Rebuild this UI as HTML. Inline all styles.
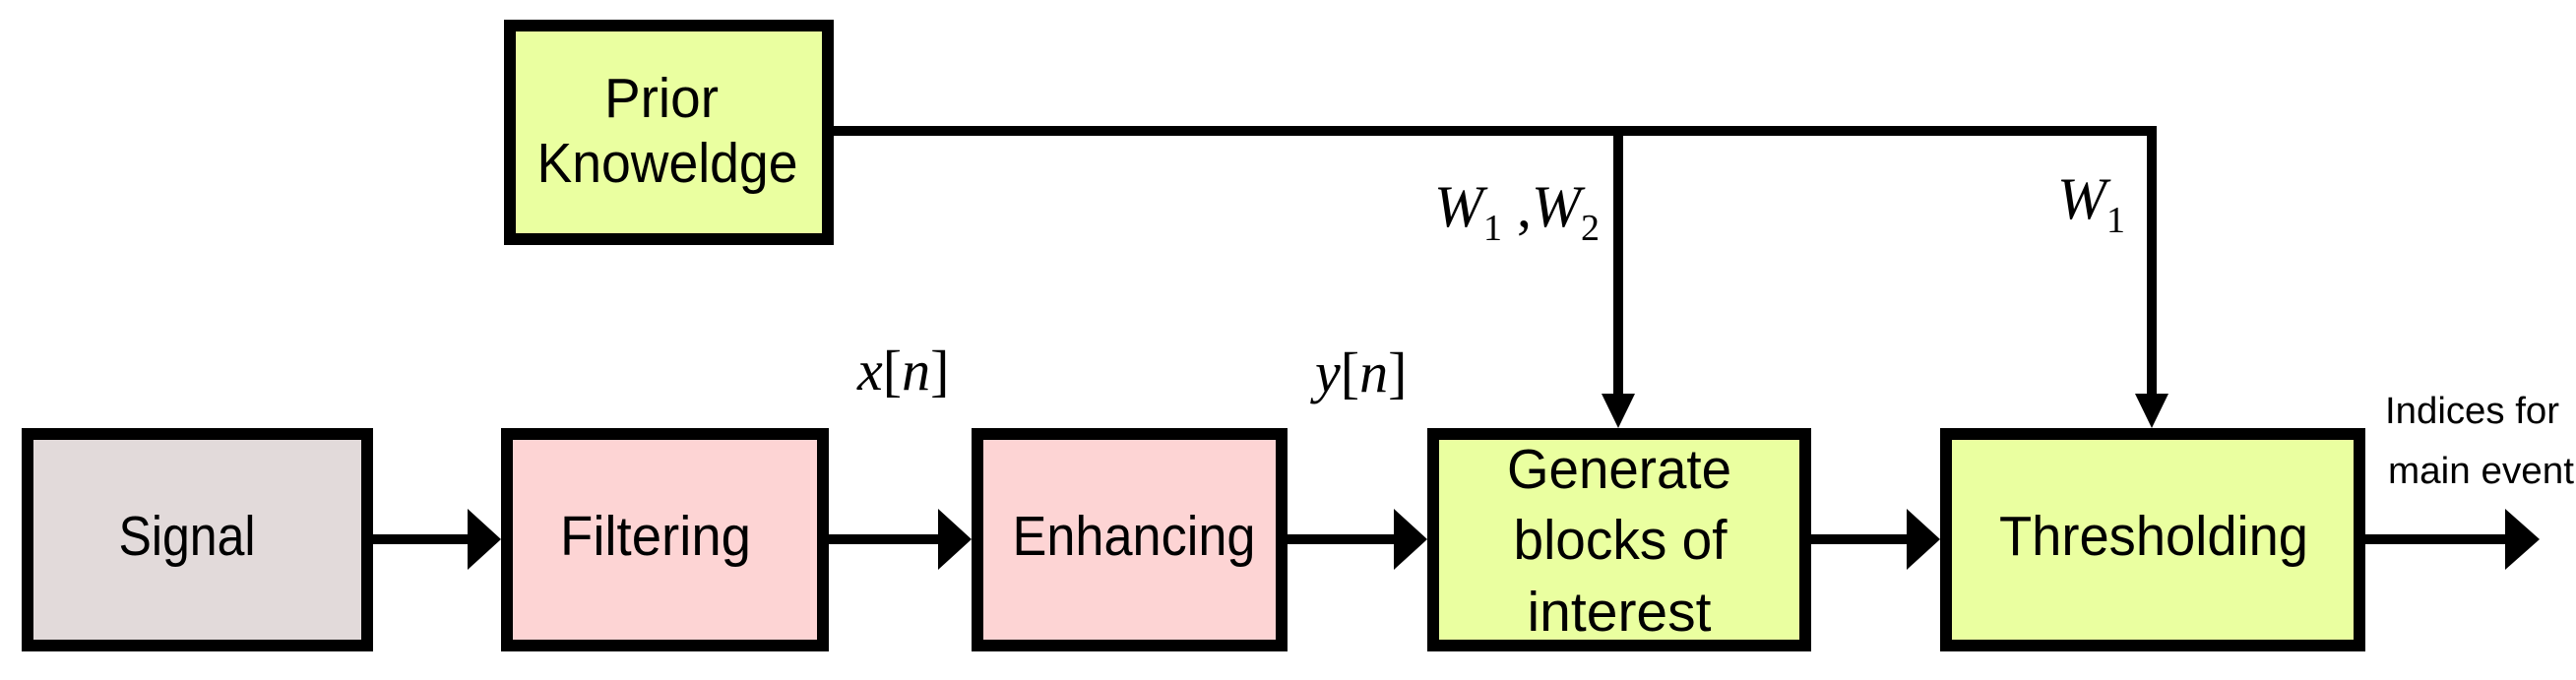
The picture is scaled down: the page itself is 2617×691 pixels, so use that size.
<!DOCTYPE html>
<html><head><meta charset="utf-8"><style>
html,body{margin:0;padding:0;background:#fff;}
svg{display:block;}
.t{font-family:"Liberation Sans",sans-serif;font-size:57px;fill:#000;}
.m{font-family:"Liberation Serif",serif;font-style:italic;fill:#000;}
.s{font-family:"Liberation Serif",serif;fill:#000;}
</style></head><body>
<svg width="2617" height="691" viewBox="0 0 2617 691" xmlns="http://www.w3.org/2000/svg">
<g stroke="#000" stroke-width="12">
<rect x="518" y="26" width="323" height="217" fill="#eaffa0"/>
<rect x="28" y="441" width="345" height="215" fill="#e2dada"/>
<rect x="515" y="441" width="321" height="215" fill="#fdd4d4"/>
<rect x="993" y="441" width="309" height="215" fill="#fdd4d4"/>
<rect x="1456" y="441" width="378" height="215" fill="#eaffa0"/>
<rect x="1977" y="441" width="420" height="215" fill="#eaffa0"/>
</g>
<g stroke="#000" stroke-width="10" fill="none">
<polyline points="847,133 2186,133 2186,400"/>
<line x1="1644" y1="133" x2="1644" y2="400"/>
<line x1="379" y1="548" x2="480" y2="548"/>
<line x1="842" y1="548" x2="960" y2="548"/>
<line x1="1308" y1="548" x2="1420" y2="548"/>
<line x1="1840" y1="548" x2="1940" y2="548"/>
<line x1="2403" y1="548" x2="2550" y2="548"/>
</g>
<g fill="#000">
<polygon points="475,517 509,548 475,579"/>
<polygon points="953,517 987,548 953,579"/>
<polygon points="1416,517 1450,548 1416,579"/>
<polygon points="1937,517 1971,548 1937,579"/>
<polygon points="2545,517 2580,548 2545,579"/>
<polygon points="1627,400 1661,400 1644,435"/>
<polygon points="2169,400 2203,400 2186,435"/>
</g>
<g class="t" text-anchor="middle">
<text x="672" y="119" textLength="116" lengthAdjust="spacingAndGlyphs">Prior</text>
<text x="678" y="185" textLength="265" lengthAdjust="spacingAndGlyphs">Knoweldge</text>
<text x="190" y="564" textLength="139" lengthAdjust="spacingAndGlyphs">Signal</text>
<text x="666" y="564" textLength="194" lengthAdjust="spacingAndGlyphs">Filtering</text>
<text x="1152" y="564" textLength="247" lengthAdjust="spacingAndGlyphs">Enhancing</text>
<text x="1645" y="496" textLength="228" lengthAdjust="spacingAndGlyphs">Generate</text>
<text x="1646" y="568" textLength="217" lengthAdjust="spacingAndGlyphs">blocks of</text>
<text x="1645" y="641" textLength="187" lengthAdjust="spacingAndGlyphs">interest</text>
<text x="2188" y="564" textLength="314" lengthAdjust="spacingAndGlyphs">Thresholding</text>
</g>
<g class="t" style="font-size:38px">
<text x="2423" y="430" textLength="177" lengthAdjust="spacingAndGlyphs">Indices for</text>
<text x="2426" y="491" textLength="189" lengthAdjust="spacingAndGlyphs">main event</text>
</g>
<text x="871" y="396" font-size="58"><tspan class="m">x</tspan><tspan class="s">[</tspan><tspan class="m">n</tspan><tspan class="s">]</tspan></text>
<text x="1336" y="398" font-size="58"><tspan class="m">y</tspan><tspan class="s">[</tspan><tspan class="m">n</tspan><tspan class="s">]</tspan></text>
<text x="1457" y="230" font-size="60"><tspan class="m">W</tspan><tspan class="s" font-size="38" dy="14">1</tspan><tspan class="s" dy="-14"> ,</tspan><tspan class="m">W</tspan><tspan class="s" font-size="38" dy="14">2</tspan></text>
<text x="2090" y="222" font-size="60"><tspan class="m">W</tspan><tspan class="s" font-size="38" dy="14">1</tspan></text>
</svg>
</body></html>
